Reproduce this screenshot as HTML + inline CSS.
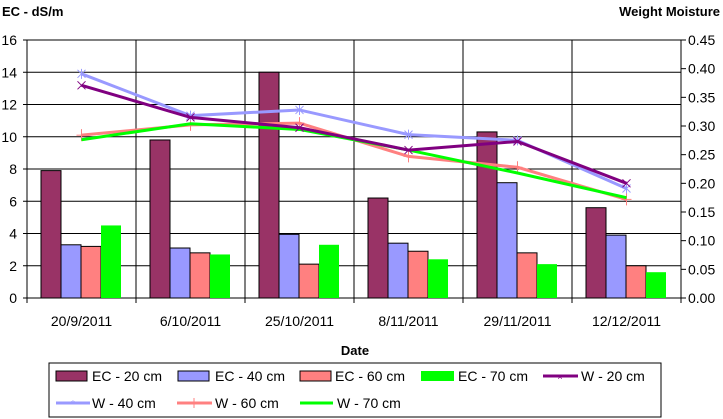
<!DOCTYPE html>
<html><head><meta charset="utf-8"><style>
html,body{margin:0;padding:0;background:#fff;}
svg{display:block;font-family:"Liberation Sans",Arial,sans-serif;}
</style></head><body>
<svg id="chart" width="723" height="419" viewBox="0 0 723 419" xmlns="http://www.w3.org/2000/svg">
<text x="2" y="16" font-size="13" font-weight="bold">EC - dS/m</text>
<text x="720" y="16" font-size="13" font-weight="bold" text-anchor="end">Weight Moisture</text>
<text x="355" y="355" font-size="13" font-weight="bold" text-anchor="middle">Date</text>
<g id="grid"></g><g id="bars"></g><g id="lines"></g><g id="axes"></g>
<g>
<rect x="49" y="363" width="612" height="54" fill="#fff" stroke="#000" stroke-width="1"/>
<g><rect x="56" y="371" width="31" height="10" fill="#993366" stroke="#000"/><text x="92" y="381" font-size="14">EC - 20 cm</text></g>
<g><rect x="178" y="371" width="31" height="10" fill="#9999ff" stroke="#000"/><text x="215" y="381" font-size="14">EC - 40 cm</text></g>
<g><rect x="300" y="371" width="31" height="10" fill="#ff8080" stroke="#000"/><text x="335" y="381" font-size="14">EC - 60 cm</text></g>
<g><rect x="421" y="371" width="33" height="10" fill="#00ff00"/><text x="458" y="381" font-size="14">EC - 70 cm</text></g>
<g><line x1="543" y1="376" x2="578" y2="376" stroke="#800080" stroke-width="3"/><text x="560" y="380" font-size="9" fill="#800080" text-anchor="middle">×</text><text x="581" y="381" font-size="14">W - 20 cm</text></g>
<g><line x1="56" y1="403" x2="90" y2="403" stroke="#9999ff" stroke-width="3"/><text x="73" y="407" font-size="10" fill="#9999ff" text-anchor="middle">*</text><text x="92" y="408" font-size="14">W - 40 cm</text></g>
<g><line x1="177" y1="403" x2="212" y2="403" stroke="#ff8080" stroke-width="3"/><line x1="194" y1="398" x2="194" y2="408" stroke="#ff8080"/><text x="215" y="408" font-size="14">W - 60 cm</text></g>
<g><line x1="300" y1="403" x2="333" y2="403" stroke="#00ff00" stroke-width="3"/><text x="337" y="408" font-size="14">W - 70 cm</text></g>
</g>
</svg>
<script>
const categories=["20/9/2011","6/10/2011","25/10/2011","8/11/2011","29/11/2011","12/12/2011"];
const ec20=[7.9,9.8,14.0,6.2,10.3,5.6];
const ec40=[3.3,3.1,3.95,3.4,7.15,3.9];
const ec60=[3.2,2.8,2.1,2.9,2.8,2.0];
const ec70=[4.5,2.7,3.3,2.4,2.1,1.6];
const w20=[0.371,0.315,0.297,0.258,0.273,0.200];
const w40=[0.391,0.318,0.328,0.285,0.275,0.191];
const w60=[0.284,0.302,0.305,0.247,0.228,0.172];
const w70=[0.276,0.304,0.294,0.258,0.218,0.175];
const leftTicks=[0,2,4,6,8,10,12,14,16];
const rightTicks=["0.00","0.05","0.10","0.15","0.20","0.25","0.30","0.35","0.40","0.45"];
const NS="http://www.w3.org/2000/svg";
const X0=27,X1=681,Y0=298,Y1=40;
const catW=(X1-X0)/categories.length;
const yL=v=>Y0-(v/16)*(Y0-Y1);
const yR=v=>Y0-(v/0.45)*(Y0-Y1);
const xC=i=>X0+catW*(i+0.5);
function mk(tag,attrs,parent){const e=document.createElementNS(NS,tag);for(const k in attrs)e.setAttribute(k,attrs[k]);parent.appendChild(e);return e;}
const grid=document.getElementById('grid'),bars=document.getElementById('bars'),lines=document.getElementById('lines'),axes=document.getElementById('axes');
leftTicks.forEach(t=>{const y=yL(t);
 const l=mk('line',{x1:X0,x2:X1,y1:y,y2:y,stroke:'#000','stroke-width':1},grid);
 
 
 mk('line',{x1:X0-4,x2:X0,y1:y,y2:y,stroke:'#000'},axes);
 const tx=mk('text',{x:X0-10,y:y+5,'font-size':14,'text-anchor':'end'},axes);tx.textContent=t;
 
 
});
rightTicks.forEach(t=>{const y=yR(parseFloat(t));
 mk('line',{x1:X1,x2:X1+5,y1:y,y2:y,stroke:'#000'},axes);
 const tx=mk('text',{x:X1+7,y:y+5,'font-size':14},axes);tx.textContent=t;
 
 
});
for(let i=0;i<=categories.length;i++){const x=X0+catW*i;
 mk('line',{x1:x,x2:x,y1:Y1,y2:Y0+5,stroke:'#000'},grid);}
mk('line',{x1:X0,x2:X0,y1:Y1,y2:Y0,stroke:'#000'},axes);
mk('line',{x1:X1,x2:X1,y1:Y1,y2:Y0,stroke:'#000'},axes);
categories.forEach((c,i)=>{const tx=mk('text',{x:xC(i),y:326,'font-size':14,'text-anchor':'middle'},axes);tx.textContent=c;
 
 });
const barSeries=[[ec20,'#993366',true],[ec40,'#9999ff',true],[ec60,'#ff8080',true],[ec70,'#00ff00',false]];
const bw=20,off=14;
barSeries.forEach((s,si)=>{s[0].forEach((v,i)=>{const x=X0+catW*i+off+si*bw;const y=yL(v);
 const attrs={x:x,y:y,width:bw,height:Y0-y,fill:s[1]};if(s[2]){attrs.stroke='#000';attrs['stroke-width']=1;}
 const r=mk('rect',attrs,bars);
 
 });});
const lineSeries=[[w60,'#ff8080','plus'],[w70,'#00ff00','none'],[w40,'#9999ff','star'],[w20,'#800080','x']];
lineSeries.forEach(s=>{const pts=s[0].map((v,i)=>xC(i)+','+yR(v)).join(' ');
 const p=mk('polyline',{points:pts,fill:'none',stroke:s[1],'stroke-width':3},lines);
 
 
 s[0].forEach((v,i)=>{const x=xC(i),y=yR(v);
  if(s[2]==='plus'){mk('line',{x1:x-5,x2:x+5,y1:y,y2:y,stroke:s[1]},lines);mk('line',{x1:x,x2:x,y1:y-6,y2:y+6,stroke:s[1]},lines);}
  if(s[2]==='x'||s[2]==='star'){mk('line',{x1:x-4,x2:x+4,y1:y-4,y2:y+4,stroke:s[1]},lines);mk('line',{x1:x-4,x2:x+4,y1:y+4,y2:y-4,stroke:s[1]},lines);}
  if(s[2]==='star'){mk('line',{x1:x,x2:x,y1:y-5,y2:y+5,stroke:s[1]},lines);}
 });});
</script>
</body></html>
